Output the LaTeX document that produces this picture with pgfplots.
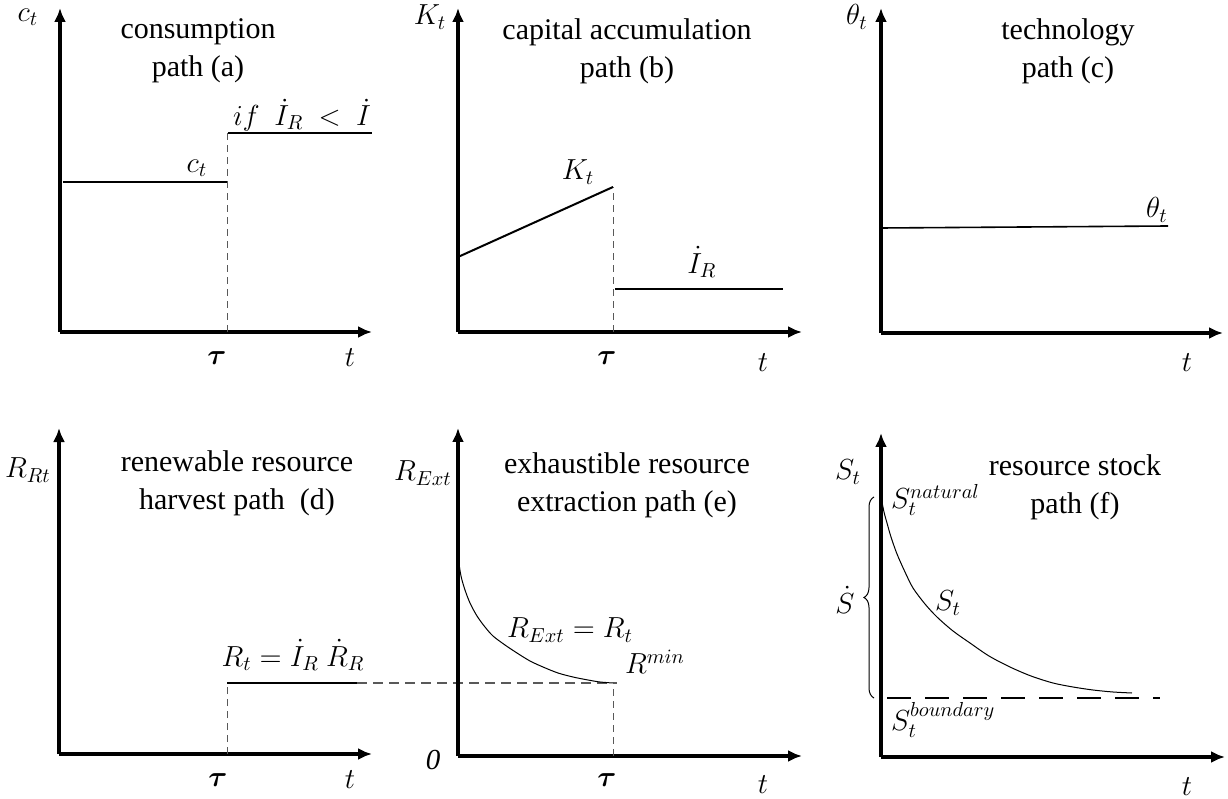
\documentclass[border=0pt]{standalone}
\usepackage{fix-cm}
\usepackage{amsmath}
\usepackage{fontspec}
\setmainfont{Liberation Serif}
\newfontfamily\titlefont{Liberation Serif}
\usepackage{pgfplots}
\pgfplotsset{compat=1.18}
\usetikzlibrary{arrows.meta,decorations.pathreplacing}

% one data unit = one pixel of the reference (0.5pt)
\pgfplotsset{
  panel/.style={x=0.5pt,y=0.5pt,xmin=0,ymin=0,axis lines=left,
    axis line style={line width=1.8pt,-{Latex[length=7pt,width=6pt]}},
    xtick=\empty,ytick=\empty,clip=false,anchor=south west},
  pathline/.style={black,line width=1pt,no marks},
  curve/.style={black,line width=0.5pt,no marks,smooth},
  guide/.style={black!65,line width=0.5pt,dash pattern=on 3.5pt off 2.5pt,no marks},
  guidelong/.style={black!65,line width=0.6pt,dash pattern=on 5pt off 3pt,no marks},
}
\tikzset{
  ttl/.style={font=\titlefont\fontsize{15}{19}\selectfont,align=center},
  lbl/.style={font=\fontsize{14.5}{17}\selectfont},
}

\begin{document}
\begin{tikzpicture}
\useasboundingbox (0,0) rectangle (614pt,399.5pt);

% (a) consumption
\begin{axis}[panel,at={(30pt,233.5pt)},xmax=312,ymax=324]
\addplot[pathline] coordinates {(3,150) (167,150)};
\addplot[pathline] coordinates {(168,199) (312,199)};
\addplot[guide] coordinates {(167,0) (167,199)};
\node[ttl] at (axis cs:138,281) {consumption\\path (a)};
\node[lbl] at (axis cs:-32,315) {$c_t$};
\node[lbl] at (axis cs:137,164) {$c_t$};
\node[lbl] at (axis cs:242,217) {$if\ \ \dot{I}_R\ <\ \dot{I}$};
\node[lbl] at (axis cs:157,-26) {$\boldsymbol{\tau}$};
\node[lbl] at (axis cs:290,-26) {$t$};
\end{axis}

% (b) capital
\begin{axis}[panel,at={(229pt,233.5pt)},xmax=344,ymax=324]
\addplot[pathline] coordinates {(0,75) (155,145)};
\addplot[pathline] coordinates {(157,43) (325,43)};
\addplot[guide] coordinates {(155,0) (155,145)};
\node[ttl] at (axis cs:169,281) {capital accumulation\\path (b)};
\node[lbl] at (axis cs:-28,315) {$K_t$};
\node[lbl] at (axis cs:120,160) {$K_t$};
\node[lbl] at (axis cs:244,70) {$\dot{I}_R$};
\node[lbl] at (axis cs:149,-26) {$\boldsymbol{\tau}$};
\node[lbl] at (axis cs:305,-31) {$t$};
\end{axis}

% (c) technology
\begin{axis}[panel,at={(440.5pt,233pt)},xmax=342,ymax=325]
\addplot[pathline,line width=0.8pt] coordinates {(0,105) (287,107)};
\node[ttl] at (axis cs:187,282) {technology\\path (c)};
\node[lbl] at (axis cs:-24,316) {$\theta_t$};
\node[lbl] at (axis cs:276,123) {$\theta_t$};
\node[lbl] at (axis cs:306,-30) {$t$};
\end{axis}

% (d) renewable resource
\begin{axis}[panel,at={(29.5pt,22.5pt)},xmax=313,ymax=326]
\addplot[pathline] coordinates {(168,71) (298,71)};
\addplot[guide] coordinates {(168,0) (168,71)};
\addplot[guidelong] coordinates {(298,71) (558,71)};
\node[ttl] at (axis cs:178,271) {renewable resource\\harvest path~~(d)};
\node[lbl] at (axis cs:-31,284) {$R_{Rt}$};
\node[lbl] at (axis cs:234,99) {$R_t=\dot{I}_R\ \dot{R}_R$};
\node[lbl] at (axis cs:159,-26) {$\boldsymbol{\tau}$};
\node[lbl] at (axis cs:291,-26) {$t$};
\end{axis}

% (e) exhaustible resource
\begin{axis}[panel,at={(229pt,21.5pt)},xmax=344,ymax=328]
\addplot[curve] coordinates {(0,199) (3,180) (7,166) (12,153) (19,140) (27,129) (35,120) (47,111) (59,103) (72,95) (85,89) (100,83) (115,79) (130,76) (142,74) (155,73)};
\addplot[guide] coordinates {(155,0) (155,73)};
\node[ttl] at (axis cs:169,271) {exhaustible resource\\extraction path (e)};
\node[lbl] at (axis cs:-35,283) {$R_{Ext}$};
\node[lbl] at (axis cs:112,126) {$R_{Ext}=R_t$};
\node[lbl] at (axis cs:197,94) {$R^{min}$};
\node[lbl] at (axis cs:-25,-4) {\textit{0}};
\node[lbl] at (axis cs:149,-24) {$\boldsymbol{\tau}$};
\node[lbl] at (axis cs:305,-29) {$t$};
\end{axis}

% (f) resource stock
\begin{axis}[panel,at={(440.5pt,21pt)},xmax=344,ymax=324]
\addplot[curve] coordinates {(0,260) (3,245) (6,234) (10,220) (16,203) (24,185) (32,169) (44,153) (56,140) (72,126) (89,114) (108,101) (129,90) (150,81) (172,74) (192,70) (212,67) (232,65) (251,64)};
\addplot[black,line width=1.2pt,dash pattern=on 12pt off 7pt,no marks] coordinates {(6,59) (279,59)};
\draw[decorate,decoration={brace,amplitude=5pt},line width=0.5pt] (axis cs:-7,59) -- (axis cs:-7,260);
\node[ttl] at (axis cs:194,270) {resource stock\\path (f)};
\node[lbl] at (axis cs:-33,285) {$S_t$};
\node[lbl,anchor=west] at (axis cs:3,257) {$S_t^{natural}$};
\node[lbl] at (axis cs:-36,157) {$\dot{S}$};
\node[lbl] at (axis cs:67,154) {$S_t$};
\node[lbl,anchor=west] at (axis cs:3,37) {$S_t^{boundary}$};
\node[lbl] at (axis cs:306,-30) {$t$};
\end{axis}
\end{tikzpicture}
\end{document}
